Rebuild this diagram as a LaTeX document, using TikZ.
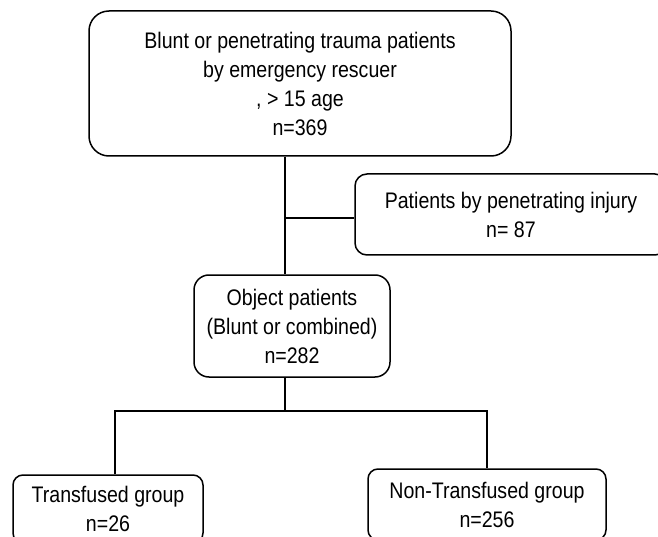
\documentclass[tikz,border=0pt]{standalone}
\usepackage{fontspec}
\setmainfont[FakeStretch=0.87]{Liberation Sans}
\begin{document}
\begin{tikzpicture}[x=1pt, y=-1pt,
        box/.style={draw, line width=1.5pt, rounded corners=#1, align=center,
            inner sep=0pt, font=\fontsize{22.5}{29}\selectfont},
        box/.default=10pt,
        link/.style={line width=1.1pt}]
    \useasboundingbox (0, 0) rectangle (658, 537);
    \clip (0, 0) rectangle (658, 537);
    \node[box=20pt, minimum width=422, minimum height=145] (top) at (300, 83.5)
        {Blunt or penetrating trauma patients\\ by emergency rescuer\\ , > 15 age\\ n=369};
    \node[box=12pt, minimum width=312, minimum height=81] (side) at (511, 214.5)
        {Patients by penetrating injury\\ n= 87};
    \node[box=15pt, minimum width=196, minimum height=102] (obj) at (292, 326)
        {Object patients\\ (Blunt or combined)\\ n=282};
    \node[box, minimum width=190, minimum height=68] (trans) at (108, 509)
        {Transfused group\\ n=26};
    \node[box, minimum width=238, minimum height=71] (nontrans) at (487, 504.5)
        {Non-Transfused group\\ n=256};
    % junction points
    \coordinate (trunk) at (285, 218);
    \coordinate (split) at (285, 411);
    \coordinate (lbr) at (115, 411);
    \coordinate (rbr) at (487, 411);
    \draw[link] (top.south -| trunk) -- (obj.north -| trunk);
    \draw[link] (trunk) -- (side.west |- trunk);
    \draw[link] (obj.south -| split) -- (split);
    \draw[link] (trans.north -| lbr) -- (lbr) -- (rbr) -- (nontrans.north -| rbr);
\end{tikzpicture}
\end{document}
